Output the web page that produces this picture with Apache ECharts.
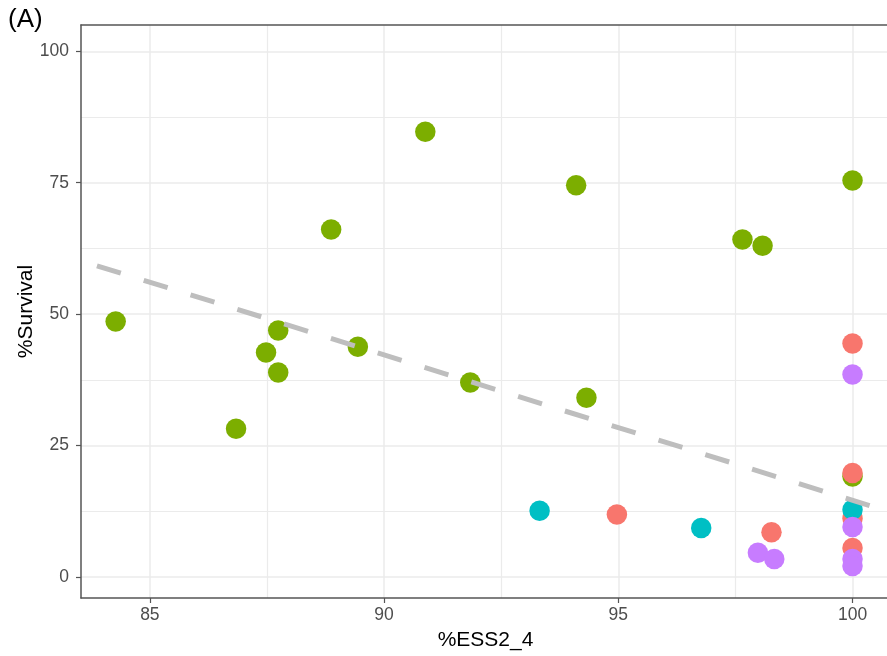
<!DOCTYPE html>
<html>
<head>
<meta charset="utf-8">
<script src="https://cdn.jsdelivr.net/npm/echarts@6/dist/echarts.min.js"></script>
<style>
  html, body { margin: 0; padding: 0; background: #fff; overflow: hidden; }
  #chart { width: 890px; height: 656px; }
</style>
</head>
<body>
<div id="chart"></div>
<script>
// ---- data ----
const xMajorTicks = [85, 90, 95, 100];
const xMinorTicks = [87.5, 92.5, 97.5];
const yMajorTicks = [0, 25, 50, 75, 100];
const yMinorTicks = [12.5, 37.5, 62.5, 87.5];

const greenX = [84.27, 86.84, 87.48, 87.74, 87.74, 88.87, 89.44, 90.88, 91.84, 94.10, 94.32, 97.65, 98.08, 100, 100];
const greenY = [48.6, 28.2, 42.7, 46.9, 38.9, 66.1, 43.8, 84.7, 37.0, 74.5, 34.1, 64.2, 63.0, 75.4, 19.1];
const redX = [94.97, 98.27, 100, 100, 100, 100];
const redY = [11.9, 8.5, 44.4, 19.8, 11.1, 5.5];
const cyanX = [93.32, 96.77, 100];
const cyanY = [12.6, 9.3, 12.8];
const purpleX = [97.98, 98.33, 100, 100, 100, 100];
const purpleY = [4.6, 3.4, 38.5, 9.5, 3.4, 2.1];
const fitX = [83.87, 100.43];
const fitY = [59.2, 13.4];

const pairs = (xs, ys) => xs.map((x, i) => [x, ys[i]]);

const FONT = 'Liberation Sans';
const AXIS_COLOR = '#555555';
const GRID_COLOR = '#EBEBEB';
const X_MIN = 83.53, X_MAX = 100.8, Y_MIN = -4, Y_MAX = 105;

const chart = echarts.init(document.getElementById('chart'), null, { renderer: 'canvas' });

function scatter(name, xs, ys, color) {
  return {
    name, type: 'scatter', xAxisIndex: 0, yAxisIndex: 0,
    data: pairs(xs, ys), symbol: 'circle', symbolSize: 20.5,
    itemStyle: { color: color, opacity: 1 },
    emphasis: { disabled: true }, z: 3
  };
}

chart.setOption({
  animation: false,
  backgroundColor: '#ffffff',
  textStyle: { fontFamily: FONT },
  title: {
    text: '(A)', left: 8, top: 7, padding: 0,
    textStyle: { fontFamily: FONT, fontSize: 26, fontWeight: 'normal', color: '#000' }
  },
  grid: { left: 81, right: 0, top: 25, bottom: 58, containLabel: false, outerBoundsMode: 'none' },
  xAxis: [
    {
      type: 'value', position: 'bottom', min: X_MIN, max: X_MAX,
      name: '%ESS2_4', nameLocation: 'middle', nameGap: 32, nameMoveOverlap: false,
      nameTextStyle: { fontFamily: FONT, fontSize: 21, color: '#000' },
      axisLine: { show: true, onZero: false, lineStyle: { color: AXIS_COLOR, width: 1.5 } },
      axisTick: { show: true, length: 5, customValues: xMajorTicks, lineStyle: { color: AXIS_COLOR, width: 1.2 } },
      axisLabel: { show: true, customValues: xMajorTicks, margin: 8, fontFamily: FONT, fontSize: 17.5, color: '#4D4D4D' },
      splitLine: { show: true, lineStyle: { color: GRID_COLOR, width: 1.5 } }
    },
    {
      type: 'value', position: 'top', min: X_MIN, max: X_MAX,
      axisLine: { show: true, onZero: false, lineStyle: { color: AXIS_COLOR, width: 1.5 } },
      axisTick: { show: false, customValues: xMinorTicks },
      axisLabel: { show: false, customValues: xMinorTicks },
      splitLine: { show: true, lineStyle: { color: GRID_COLOR, width: 1.2 } }
    }
  ],
  yAxis: [
    {
      type: 'value', position: 'left', min: Y_MIN, max: Y_MAX,
      name: '%Survival', nameLocation: 'middle', nameGap: 44, nameMoveOverlap: false,
      nameTextStyle: { fontFamily: FONT, fontSize: 21, color: '#000' },
      axisLine: { show: true, onZero: false, lineStyle: { color: AXIS_COLOR, width: 1.5 } },
      axisTick: { show: true, length: 5, customValues: yMajorTicks, lineStyle: { color: AXIS_COLOR, width: 1.2 } },
      axisLabel: { show: true, customValues: yMajorTicks, margin: 12, fontFamily: FONT, fontSize: 17.5, color: '#4D4D4D' },
      splitLine: { show: true, lineStyle: { color: GRID_COLOR, width: 1.5 } }
    },
    {
      type: 'value', position: 'right', min: Y_MIN, max: Y_MAX,
      axisLine: { show: false, onZero: false },
      axisTick: { show: false, customValues: yMinorTicks },
      axisLabel: { show: false, customValues: yMinorTicks },
      splitLine: { show: true, lineStyle: { color: GRID_COLOR, width: 1.2 } }
    }
  ],
  series: [
    scatter('green', greenX, greenY, '#7CAE00'),
    scatter('red', redX, redY, '#F8766D'),
    scatter('cyan', cyanX, cyanY, '#00BFC4'),
    scatter('purple', purpleX, purpleY, '#C77CFF'),
    {
      name: 'fit', type: 'line', xAxisIndex: 0, yAxisIndex: 0,
      data: pairs(fitX, fitY), symbol: 'none', z: 5,
      lineStyle: { color: '#BEBEBE', width: 5, type: [25, 24], cap: 'butt' },
      emphasis: { disabled: true }
    }
  ]
});
</script>
</body>
</html>
